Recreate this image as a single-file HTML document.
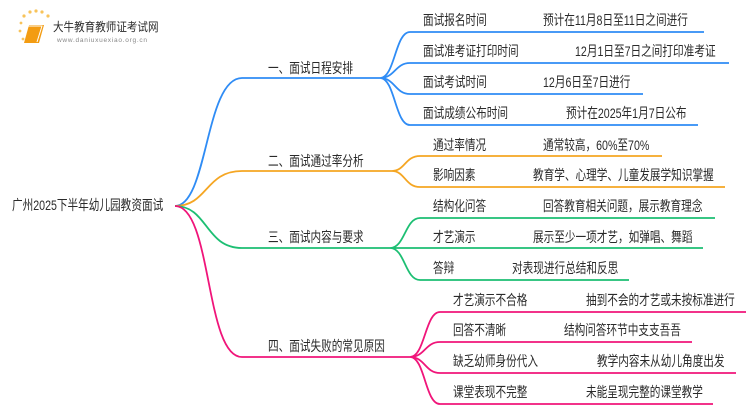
<!DOCTYPE html>
<html><head><meta charset="utf-8"><style>
html,body{margin:0;padding:0;background:#fff;}
svg{display:block;}
text{font-family:"Liberation Sans","Noto Sans CJK SC",sans-serif;fill:#2a2a2a;}
</style></head><body>
<svg width="750" height="410" viewBox="0 0 750 410" xmlns="http://www.w3.org/2000/svg">
<!-- logo -->
<g>
<circle cx="24" cy="16" r="1.6" fill="#f8c35a"/><circle cx="30" cy="12" r="1.6" fill="#f8c35a"/><circle cx="36" cy="11" r="1.6" fill="#f8c35a"/><circle cx="42" cy="12" r="1.6" fill="#f8c35a"/><circle cx="48" cy="16" r="1.6" fill="#f8c35a"/><circle cx="21" cy="23" r="1.4" fill="#f8c35a"/><circle cx="20" cy="31" r="1.4" fill="#f8c35a"/><circle cx="23" cy="39" r="1.4" fill="#f8c35a"/>
<path d="M29 25 L44 25 L39 43 L24 43 Z" fill="#f39c12"/>
<path d="M27 26 L42 26 L37 42" fill="none" stroke="#fff" stroke-width="1"/>
<text transform="translate(53,31) scale(0.88,1)" font-size="12">大牛教育教师证考试网</text>
<text x="57" y="42" font-size="6.5" style="fill:#888" textLength="90">www.daniuxuexiao.org.cn</text>
</g>
<g fill="none" stroke-width="1.8">
<path d="M175 206 C208 206 205 78 242 78 L380 78" stroke="#2f8cf5"/>
<path d="M380 78 C395 78 395 32 410 32 L704 32 M380 78 C395 78 395 63 410 63 L729 63 M380 78 C395 78 395 94 410 94 L643 94 M380 78 C395 78 395 125 410 125 L698 125" stroke="#2f8cf5"/>
<path d="M175 206 C208 206 205 171 242 171 L392 171" stroke="#f5a623"/>
<path d="M392 171 C405 171 405 156 420 156 L662 156 M392 171 C405 171 405 187 420 187 L725 187" stroke="#f5a623"/>
<path d="M175 206 C208 206 205 248 242 248 L390 248" stroke="#1dbf73"/>
<path d="M390 248 C405 248 405 218 420 218 L715 218 M390 248 L703 248 M390 248 C405 248 405 280 420 280 L629 280" stroke="#1dbf73"/>
<path d="M175 206 C212 206 205 357 242 357 L410 357" stroke="#f0157a"/>
<path d="M410 357 C425 357 425 312 440 312 L746 312 M410 357 C425 357 425 342 440 342 L692 342 M410 357 C425 357 425 373 440 373 L736 373 M410 357 C425 357 425 404 440 404 L713 404" stroke="#f0157a"/>
</g>
<g font-size="14">
<text transform="translate(12,210) scale(0.76,1)">广州2025下半年幼儿园教资面试</text>
<text transform="translate(268,73) scale(0.76,1)">一、面试日程安排</text>
<text transform="translate(268,166) scale(0.76,1)">二、面试通过率分析</text>
<text transform="translate(268,242) scale(0.76,1)">三、面试内容与要求</text>
<text transform="translate(268,351) scale(0.76,1)">四、面试失败的常见原因</text>

<text transform="translate(423,25) scale(0.76,1)">面试报名时间</text>
<text transform="translate(543,25) scale(0.76,1)">预计在11月8日至11日之间进行</text>
<text transform="translate(423,56) scale(0.76,1)">面试准考证打印时间</text>
<text transform="translate(575,56) scale(0.76,1)">12月1日至7日之间打印准考证</text>
<text transform="translate(423,87) scale(0.76,1)">面试考试时间</text>
<text transform="translate(543,87) scale(0.76,1)">12月6日至7日进行</text>
<text transform="translate(423,118) scale(0.76,1)">面试成绩公布时间</text>
<text transform="translate(566,118) scale(0.76,1)">预计在2025年1月7日公布</text>

<text transform="translate(433,150) scale(0.76,1)">通过率情况</text>
<text transform="translate(543,150) scale(0.76,1)">通常较高，60%至70%</text>
<text transform="translate(433,180) scale(0.76,1)">影响因素</text>
<text transform="translate(533,180) scale(0.76,1)">教育学、心理学、儿童发展学知识掌握</text>

<text transform="translate(433,211) scale(0.76,1)">结构化问答</text>
<text transform="translate(543,211) scale(0.76,1)">回答教育相关问题，展示教育理念</text>
<text transform="translate(433,242) scale(0.76,1)">才艺演示</text>
<text transform="translate(533,242) scale(0.76,1)">展示至少一项才艺，如弹唱、舞蹈</text>
<text transform="translate(433,273) scale(0.76,1)">答辩</text>
<text transform="translate(512,273) scale(0.76,1)">对表现进行总结和反思</text>

<text transform="translate(453,305) scale(0.76,1)">才艺演示不合格</text>
<text transform="translate(586,305) scale(0.76,1)">抽到不会的才艺或未按标准进行</text>
<text transform="translate(453,335) scale(0.76,1)">回答不清晰</text>
<text transform="translate(564,335) scale(0.76,1)">结构问答环节中支支吾吾</text>
<text transform="translate(453,366) scale(0.76,1)">缺乏幼师身份代入</text>
<text transform="translate(597,366) scale(0.76,1)">教学内容未从幼儿角度出发</text>
<text transform="translate(453,397) scale(0.76,1)">课堂表现不完整</text>
<text transform="translate(586,397) scale(0.76,1)">未能呈现完整的课堂教学</text>
</g>
</svg>
</body></html>
